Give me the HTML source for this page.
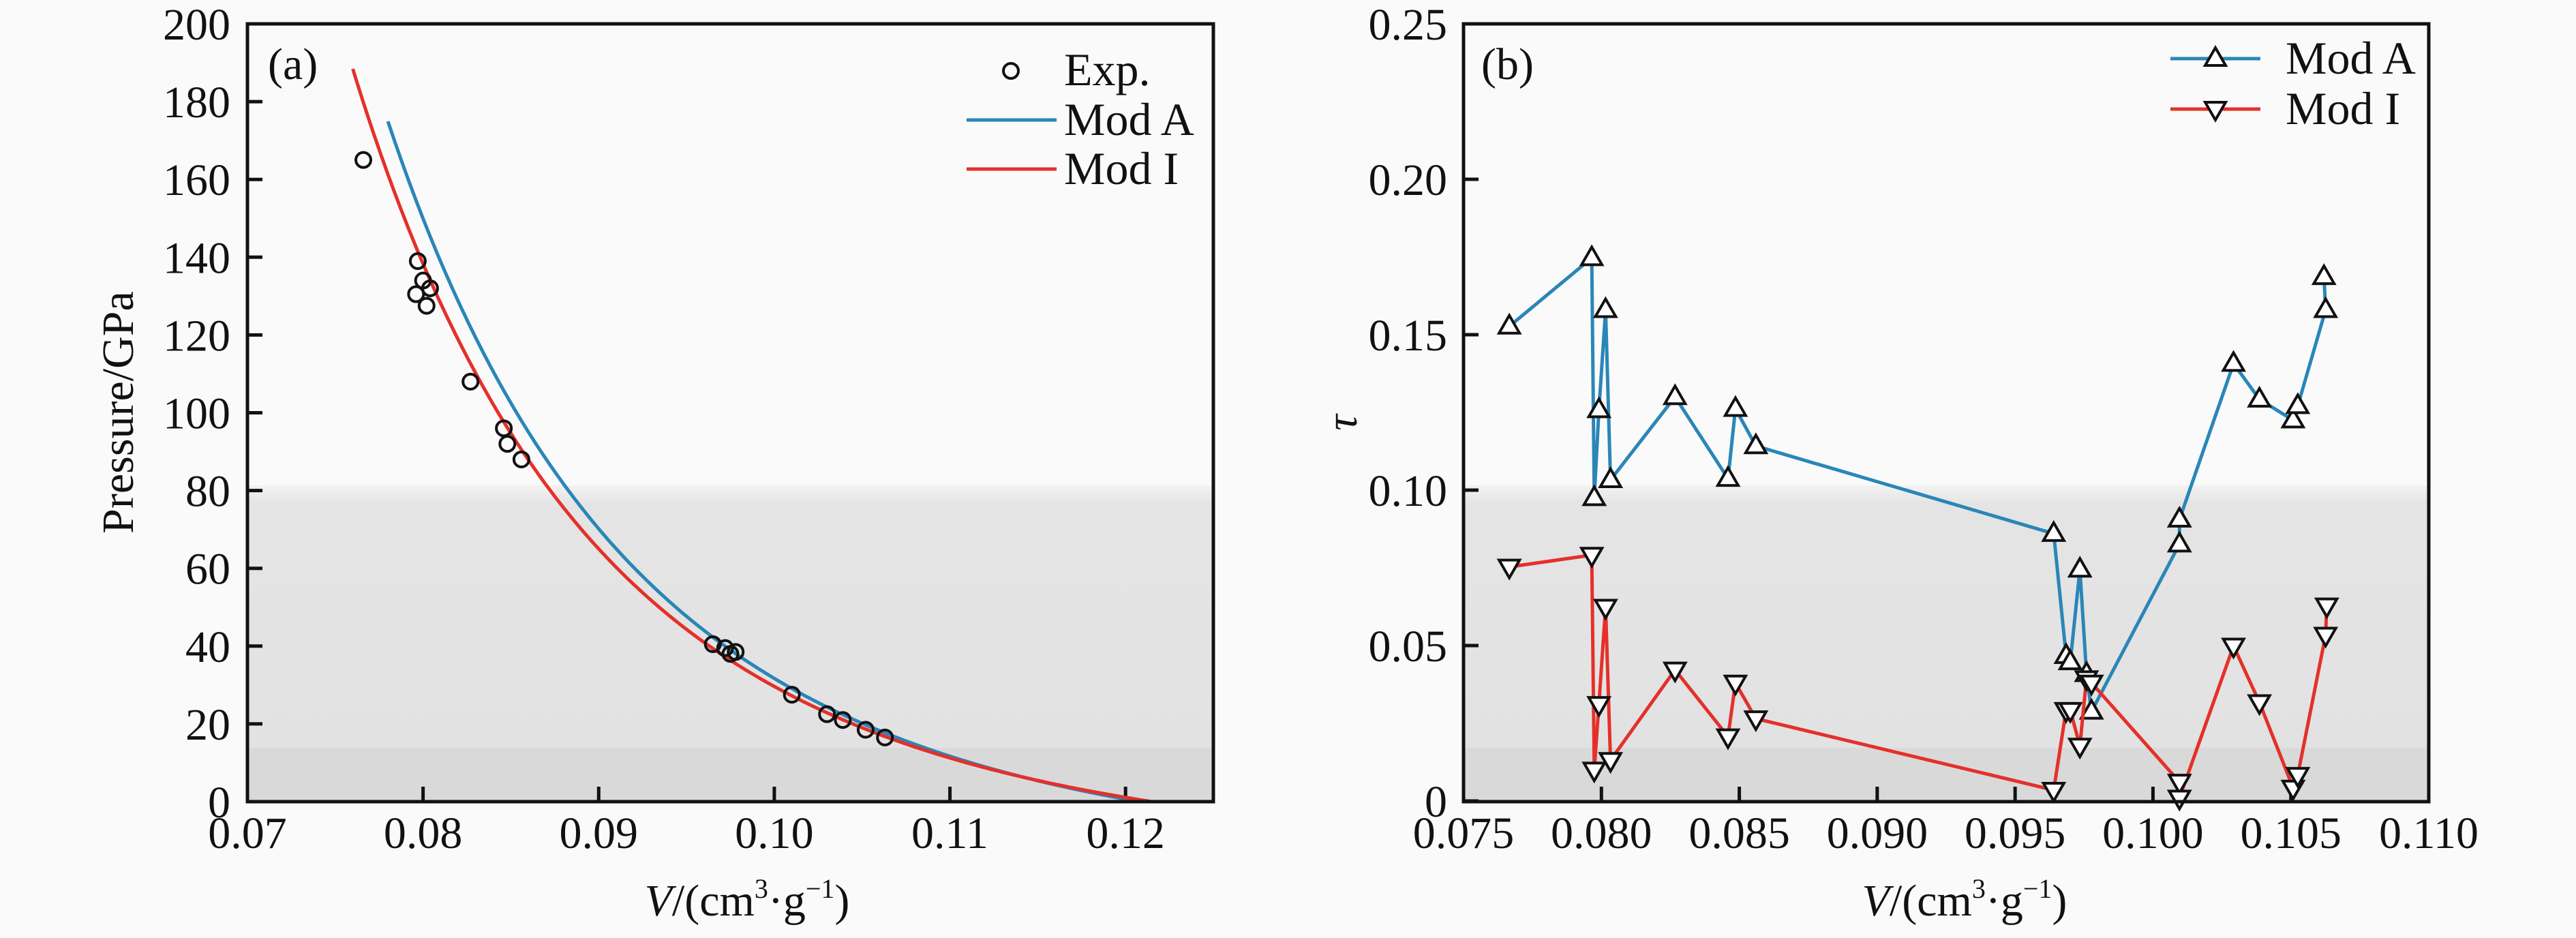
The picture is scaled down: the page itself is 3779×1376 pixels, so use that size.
<!DOCTYPE html>
<html><head><meta charset="utf-8"><style>
html,body{margin:0;padding:0;background:#fafafa}
svg{display:block}
svg text{font-family:"Liberation Serif","DejaVu Serif",serif !important;fill:#111}
</style></head><body>
<svg id="s" width="3779" height="1376" viewBox="0 0 3779 1376" xmlns="http://www.w3.org/2000/svg" font-family="Liberation Serif, serif">
<defs>
<linearGradient id="g" x1="0" y1="0" x2="0" y2="1">
<stop offset="0" stop-color="#f2f2f2"/><stop offset="0.06" stop-color="#e4e4e4"/><stop offset="1" stop-color="#e2e2e2"/>
</linearGradient>
</defs>
<rect width="3779" height="1376" fill="#fafafa"/>
<rect x="363" y="712" width="1417" height="464" fill="url(#g)"/>
<rect x="363" y="1097" width="1417" height="79" fill="#d9d9d9"/>
<rect x="2147" y="712" width="1416" height="464" fill="url(#g)"/>
<rect x="2147" y="1097" width="1416" height="79" fill="#d9d9d9"/>
<g id="dyn" font-family="Liberation Serif, serif"></g>
<rect x="363" y="35" width="1417" height="1141" fill="none" stroke="#111" stroke-width="5"/>
<rect x="2147" y="35" width="1416" height="1141" fill="none" stroke="#111" stroke-width="5"/>
<text x="393" y="116" font-size="66" font-family="Liberation Serif, serif">(a)</text>
<text x="2173" y="116" font-size="66" font-family="Liberation Serif, serif">(b)</text>
<circle cx="1483" cy="104" r="11" fill="none" stroke="#111" stroke-width="4"/>
<text x="1561" y="125" font-size="68" font-family="Liberation Serif, serif">Exp.</text>
<line x1="1418" y1="176" x2="1550" y2="176" stroke="#2a86b8" stroke-width="5"/>
<text x="1561" y="198" font-size="68" font-family="Liberation Serif, serif">Mod A</text>
<line x1="1418" y1="248" x2="1550" y2="248" stroke="#e5302a" stroke-width="5"/>
<text x="1561" y="270" font-size="68" font-family="Liberation Serif, serif">Mod I</text>
<line x1="3184" y1="86" x2="3316" y2="86" stroke="#2a86b8" stroke-width="5"/>
<polygon points="3250,70 3265,96 3235,96" fill="#fff" stroke="#111" stroke-width="4"/>
<text x="3353" y="108" font-size="68" font-family="Liberation Serif, serif">Mod A</text>
<line x1="3184" y1="160" x2="3316" y2="160" stroke="#e5302a" stroke-width="5"/>
<polygon points="3250,176 3265,150 3235,150" fill="#fff" stroke="#111" stroke-width="4"/>
<text x="3353" y="182" font-size="68" font-family="Liberation Serif, serif">Mod I</text>
<text transform="translate(195,605) rotate(-90)" font-size="66" text-anchor="middle" font-family="Liberation Serif, serif">Pressure/GPa</text>
<text transform="translate(1990,620) rotate(-90)" font-size="66" text-anchor="middle" font-style="italic" font-family="Liberation Serif, serif">τ</text>
<text x="1096" y="1343" font-size="66" text-anchor="middle" font-family="Liberation Serif, serif"><tspan font-style="italic">V</tspan>/(cm<tspan font-size="40" dy="-26">3</tspan><tspan dy="26">·g</tspan><tspan font-size="40" dy="-26">−1</tspan><tspan dy="26">)</tspan></text>
<text x="2882" y="1343" font-size="66" text-anchor="middle" font-family="Liberation Serif, serif"><tspan font-style="italic">V</tspan>/(cm<tspan font-size="40" dy="-26">3</tspan><tspan dy="26">·g</tspan><tspan font-size="40" dy="-26">−1</tspan><tspan dy="26">)</tspan></text>
</svg>
<script>
var NS="http://www.w3.org/2000/svg",D=document.getElementById("dyn");
function el(t,a,txt){var e=document.createElementNS(NS,t);for(var k in a)e.setAttribute(k,a[k]);if(t=="text")e.setAttribute("font-family","Liberation Serif, serif");if(txt!==undefined)e.textContent=txt;D.appendChild(e);return e;}
function lx(v){return 363+(v-0.07)/0.055*1417;} function ly(p){return 1176-p/200*1141;}
function rx(v){return 2147+(v-0.075)/0.035*1416;} function ry(t){return 1175-t/0.25*1140;}
for(var i=0;i<=10;i++){var p=i*20,y=ly(p);el("line",{x1:363,y1:y,x2:385,y2:y,stroke:"#111","stroke-width":5});
el("text",{x:338,y:y+23,"font-size":66,"text-anchor":"end"},String(p));}
var xl=["0.07","0.08","0.09","0.10","0.11","0.12"];
for(var i=0;i<6;i++){var x=lx(0.07+i*0.01);el("line",{x1:x,y1:1176,x2:x,y2:1154,stroke:"#111","stroke-width":5});
el("text",{x:x,y:1244,"font-size":66,"text-anchor":"middle"},xl[i]);}
var yl=["0","0.05","0.10","0.15","0.20","0.25"];
for(var i=0;i<6;i++){var y=ry(i*0.05);el("line",{x1:2147,y1:y,x2:2169,y2:y,stroke:"#111","stroke-width":5});
el("text",{x:2123,y:y+23,"font-size":66,"text-anchor":"end"},yl[i]);}
var xr=["0.075","0.080","0.085","0.090","0.095","0.100","0.105","0.110"];
for(var i=0;i<8;i++){var x=rx(0.075+i*0.005);el("line",{x1:x,y1:1176,x2:x,y2:1154,stroke:"#111","stroke-width":5});
el("text",{x:x,y:1244,"font-size":66,"text-anchor":"middle"},xr[i]);}
function curve(K,V0,n,v1,col){var pts=[];for(var v=v1;v<=V0+1e-9;v+=0.0002){var P=K*(Math.pow(V0/v,n)-1);pts.push(lx(v).toFixed(1)+","+ly(P).toFixed(1));}
el("polyline",{points:pts.join(" "),fill:"none",stroke:col,"stroke-width":5});}
curve(17.34,0.1208,5.5,0.078,"#2a86b8");
curve(15.44,0.1215,5.5,0.076,"#e5302a");
var exp=[[0.0766,165],[0.0797,139],[0.0796,130.5],[0.0800,134],[0.0802,127.5],[0.0804,132],[0.0827,108],[0.0846,96],[0.0848,92],[0.0856,88],[0.0965,40.5],[0.0972,39.5],[0.0975,38],[0.0978,38.5],[0.1010,27.5],[0.1030,22.5],[0.1039,21],[0.1052,18.5],[0.1063,16.5]];
exp.forEach(function(d){el("circle",{cx:lx(d[0]),cy:ly(d[1]),r:11,fill:"none",stroke:"#111","stroke-width":4});});
var A=[[0.07666,0.1527],[0.07965,0.1747],[0.07974,0.0975],[0.07991,0.1258],[0.08015,0.158],[0.08033,0.1033],[0.08267,0.130],[0.08459,0.1037],[0.08486,0.1262],[0.0856,0.1142],[0.0964,0.086],[0.09685,0.0467],[0.0970,0.0447],[0.09735,0.0745],[0.09759,0.0409],[0.09777,0.0288],[0.10096,0.0826],[0.10096,0.0906],[0.10292,0.1407],[0.10386,0.1292],[0.10508,0.1225],[0.10525,0.1271],[0.10626,0.158],[0.1062,0.1686]];
var I=[[0.07666,0.0753],[0.07965,0.0791],[0.07974,0.0100],[0.07991,0.0311],[0.08015,0.0624],[0.08033,0.0131],[0.08267,0.0422],[0.08459,0.0207],[0.08486,0.0380],[0.0856,0.0265],[0.0964,0.0035],[0.09685,0.0292],[0.0970,0.0292],[0.09735,0.0177],[0.09759,0.0394],[0.09777,0.0380],[0.10096,0.0061],[0.10096,0.0010],[0.10292,0.0499],[0.10386,0.0317],[0.10508,0.0042],[0.10525,0.0083],[0.10626,0.0534],[0.1063,0.0628]];
function series(S,col,up){el("polyline",{points:S.map(function(d){return rx(d[0]).toFixed(1)+","+ry(d[1]).toFixed(1);}).join(" "),fill:"none",stroke:col,"stroke-width":5});
S.forEach(function(d){var x=rx(d[0]),y=ry(d[1]),pts;
if(up)pts=[x,y-16,x+15,y+10,x-15,y+10];else pts=[x,y+16,x+15,y-10,x-15,y-10];
el("polygon",{points:pts.join(","),fill:"#fff",stroke:"#111","stroke-width":4});});}
series(A,"#2a86b8",true);
series(I,"#e5302a",false);
</script>
</body></html>
